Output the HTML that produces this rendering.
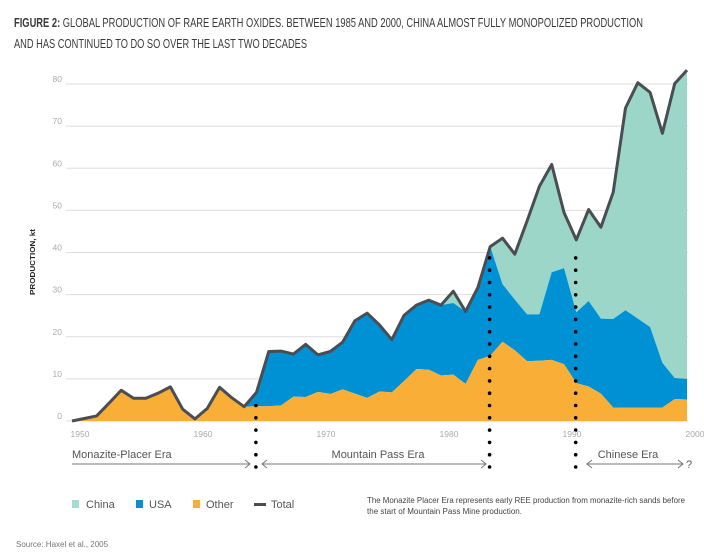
<!DOCTYPE html>
<html><head><meta charset="utf-8"><style>
body{margin:0;background:#fff;width:704px;height:555px;overflow:hidden;font-family:"Liberation Sans",sans-serif}
svg{display:block}
</style></head><body>
<svg id="chart" width="704" height="555" viewBox="0 0 704 555">
<g font-family="'Liberation Sans',sans-serif" font-size="12.5" fill="#3a3a3a">
<text x="14" y="27" textLength="629" lengthAdjust="spacingAndGlyphs"><tspan font-weight="bold">FIGURE 2:</tspan> GLOBAL PRODUCTION OF RARE EARTH OXIDES. BETWEEN 1985 AND 2000, CHINA ALMOST FULLY MONOPOLIZED PRODUCTION</text>
<text x="14" y="48" textLength="293" lengthAdjust="spacingAndGlyphs">AND HAS CONTINUED TO DO SO OVER THE LAST TWO DECADES</text>
</g>
<text transform="translate(35,262) rotate(-90)" text-anchor="middle" font-family="'Liberation Sans',sans-serif" font-size="7.5" font-weight="bold" fill="#222" textLength="66" lengthAdjust="spacingAndGlyphs">PRODUCTION, kt</text>
<g id="grid"></g><g id="areas"></g><g id="eras"></g><g id="xlabels"></g>
<g font-size="11" fill="#555">
<rect x="72" y="500" width="7" height="8" fill="#a6dbd0"/>
<text x="86" y="508">China</text>
<rect x="136" y="500" width="7" height="8" fill="#0a8ed0"/>
<text x="149" y="508">USA</text>
<rect x="193" y="500" width="7" height="8" fill="#f7ae3a"/>
<text x="206" y="508">Other</text>
<rect x="254" y="503" width="12" height="3" fill="#4a4d52"/>
<text x="271" y="508">Total</text>
</g>
<g font-family="'Liberation Sans',sans-serif" font-size="8" fill="#444">
<text x="367" y="503" textLength="318" lengthAdjust="spacingAndGlyphs">The Monazite Placer Era represents early REE production from monazite-rich sands before</text>
<text x="367" y="514" textLength="155" lengthAdjust="spacingAndGlyphs">the start of Mountain Pass Mine production.</text>
</g>
<text x="16" y="547" font-family="'Liberation Sans',sans-serif" font-size="8" fill="#777">Source: Haxel et al., 2005</text>
</svg>
<script>
const years = [];for(let y=1950;y<=2000;y++)years.push(y);
const other = [0,0.6,1.2,4.2,7.3,5.4,5.4,6.6,8.1,2.8,0.5,3.0,8.0,5.5,3.4,3.5,3.5,3.7,5.8,5.7,6.9,6.4,7.5,6.5,5.5,7.0,6.8,9.5,12.3,12.2,10.8,11.0,8.8,14.5,15.5,18.8,16.8,14.2,14.3,14.5,13.5,9.0,8.2,6.5,3.2,3.2,3.2,3.2,3.2,5.2,5.1];
const usa = [0,0,0,0,0,0,0,0,0,0,0,0,0,0,0,3.3,13.0,12.9,10.1,12.5,8.8,10.1,11.2,17.3,20.1,15.8,12.5,15.6,15.2,16.5,16.7,17.0,17.2,17.2,25.9,13.7,12.0,11.1,11.0,20.8,22.8,16.8,20.3,17.8,21.0,23.1,21.1,19.1,10.6,5.0,4.9];
const china = [0,0,0,0,0,0,0,0,0,0,0,0,0,0,0,0,0,0,0,0,0,0,0,0,0,0,0,0,0,0,0,2.8,0,0,0,10.9,10.8,22.2,30.4,25.6,13.2,17.2,21.7,21.7,30.1,48.0,56.0,55.7,54.5,69.9,73.3];
const yTicks = [0,10,20,30,40,50,60,70,80];
const xTicks = [1950,1960,1970,1980,1990,2000];
const eraBounds = [1964.95,1983.95,1990.95];
const NS='http://www.w3.org/2000/svg';
const x0=72,x1=687,y0=421,y80=84;
const X=y=>x0+(y-1950)*(x1-x0)/50;
const Y=v=>y0-(v)*(y0-y80)/80;
function mk(t,a,p){const e=document.createElementNS(NS,t);for(const k in a)e.setAttribute(k,a[k]);p.appendChild(e);return e;}
const grid=document.getElementById('grid');
yTicks.forEach(v=>{
 const l=mk('line',{x1:66,x2:688,y1:Y(v),y2:Y(v),stroke:'#dedede','stroke-width':1},grid);
 
 
 const t=mk('text',{x:62,y:Y(v)-2,'text-anchor':'end','font-size':8.5,fill:'#aaa'},grid);
 t.textContent=v;
 
 
});
const totals=years.map((y,i)=>other[i]+usa[i]+china[i]);
const areas=document.getElementById('areas');
function band(lo,hi,fill,name){
 let d='M'+years.map((y,i)=>X(y)+','+Y(hi[i])).join('L');
 for(let i=years.length-1;i>=0;i--)d+='L'+X(years[i])+','+Y(lo[i]);
 const p=mk('path',{d:d+'Z',fill:fill},areas);
 
 
}
const zero=years.map(()=>0);
const b1=other.slice();
const b2=years.map((y,i)=>other[i]+usa[i]);
band(b2,totals,'#9bd6c9','area-china');
band(b1,b2,'#0090d4','area-usa');
band(zero,b1,'#f9ae38','area-other');
const tl=mk('path',{d:'M'+years.map((y,i)=>X(y)+','+Y(totals[i])).join('L'),fill:'none',stroke:'#4a4d52','stroke-width':3,'stroke-linejoin':'round'},areas);


const xl=document.getElementById('xlabels');
xTicks.forEach(v=>{
 const t=mk('text',{x:X(v)+8,y:437,'text-anchor':'middle','font-size':8.5,fill:'#aaa'},xl);
 t.textContent=v;
 
 
});
const eras=document.getElementById('eras');
eraBounds.forEach((yr,k)=>{
 const i=Math.round(yr-1950);
 const top=Y(totals[Math.min(i,years.length-1)])+12;
 for(let yy=467;yy>top-6;yy-=12.3){
  const c=mk('circle',{cx:X(yr),cy:yy,r:1.8,fill:'#000'},eras);
  
  
 }
});
function arrow(xa,xb,left,right){
 mk('line',{x1:xa,x2:xb,y1:464,y2:464,stroke:'#777','stroke-width':1},eras);
 if(left)mk('path',{d:`M${xa+5},460L${xa},464L${xa+5},468`,fill:'none',stroke:'#777'},eras);
 if(right)mk('path',{d:`M${xb-5},460L${xb},464L${xb-5},468`,fill:'none',stroke:'#777'},eras);
}
arrow(72,250,false,true);arrow(262,486,true,true);arrow(587,683,true,true);
[['Monazite-Placer Era',72,'start'],['Mountain Pass Era',378,'middle'],['Chinese Era',628,'middle'],['?',686,'start']].forEach(a=>{
 const t=mk('text',{x:a[1],y:a[0]=='?'?468:458,'text-anchor':a[2],'font-size':11,fill:'#555'},eras);
 t.textContent=a[0];
 
 
});
</script>
</body></html>
